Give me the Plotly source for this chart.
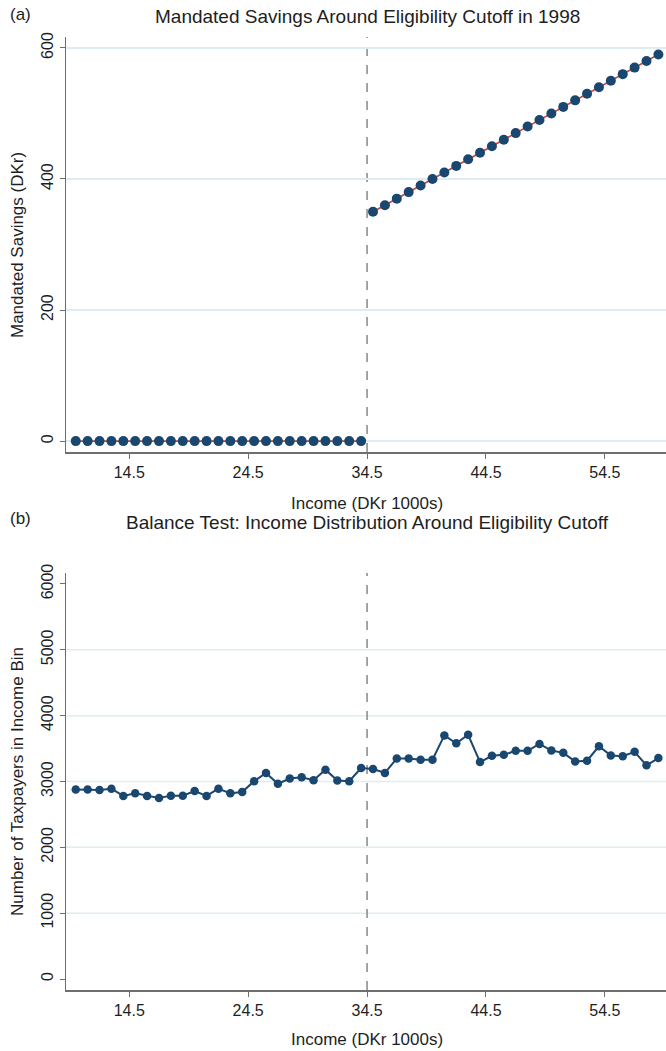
import plotly.graph_objects as go
from plotly.subplots import make_subplots

# ---- data ----
income_below = [10, 11, 12, 13, 14, 15, 16, 17, 18, 19, 20, 21, 22, 23, 24,
                25, 26, 27, 28, 29, 30, 31, 32, 33, 34]
income_above = [35, 36, 37, 38, 39, 40, 41, 42, 43, 44, 45, 46, 47, 48, 49,
                50, 51, 52, 53, 54, 55, 56, 57, 58, 59]
savings_below = [0] * 25
savings_above = [350, 360, 370, 380, 390, 400, 410, 420, 430, 440, 450, 460,
                 470, 480, 490, 500, 510, 520, 530, 540, 550, 560, 570, 580, 590]

income_all = income_below + income_above
taxpayers = [2880, 2880, 2870, 2890, 2780, 2820, 2780, 2750, 2785, 2785,
             2855, 2780, 2890, 2820, 2840, 3005, 3130, 2965, 3045, 3065,
             3020, 3180, 3015, 3005, 3205,
             3190, 3130, 3350, 3350, 3330, 3330, 3700, 3580, 3710, 3295,
             3390, 3405, 3465, 3465, 3570, 3470, 3435, 3305, 3315, 3535,
             3395, 3385, 3450, 3245, 3355]

cutoff = 34.5
x_ticks = [14.5, 24.5, 34.5, 44.5, 54.5]
y1_ticks = [0, 200, 400, 600]
y2_ticks = [0, 1000, 2000, 3000, 4000, 5000, 6000]
y2_grid = [1000, 2000, 3000, 4000, 5000]

title_a = "Mandated Savings Around Eligibility Cutoff in 1998"
title_b = "Balance Test: Income Distribution Around Eligibility Cutoff"
xlabel = "Income (DKr 1000s)"
ylabel_a = "Mandated Savings (DKr)"
ylabel_b = "Number of Taxpayers in Income Bin"

# ---- styles ----
NAVY = "#1A476F"
RED = "#D2452F"
GRID = "#DDEEF2"
AXIS = "#6E6E6E"
TXT = "#1E1E1E"
FONT = "Liberation Sans, Arial, sans-serif"

FW, FH = 666, 1051
ML, MT, MB = 66, 37, 61

fig = make_subplots(rows=2, cols=1)

fig.add_trace(go.Scatter(x=income_below, y=savings_below, mode="lines+markers",
                         line=dict(color=RED, width=1.6),
                         marker=dict(color=NAVY, size=10), showlegend=False), row=1, col=1)
fig.add_trace(go.Scatter(x=income_above, y=savings_above, mode="lines+markers",
                         line=dict(color=RED, width=1.6),
                         marker=dict(color=NAVY, size=10), showlegend=False), row=1, col=1)
fig.add_trace(go.Scatter(x=income_all, y=taxpayers, mode="lines+markers",
                         line=dict(color=NAVY, width=2),
                         marker=dict(color=NAVY, size=8.5), showlegend=False), row=2, col=1)

common_x = dict(range=[9.18, 59.64], tickvals=x_ticks, ticktext=[str(v) for v in x_ticks],
                showgrid=False, zeroline=False, showline=True, linecolor=AXIS, linewidth=1.5,
                ticks="outside", ticklen=5, tickcolor=AXIS,
                tickfont=dict(family=FONT, size=16, color=TXT))
common_y = dict(zeroline=False, showline=True,
                linecolor=AXIS, linewidth=1.5, ticks="outside", ticklen=5, tickcolor=AXIS,
                tickangle=-90, tickfont=dict(family=FONT, size=16, color=TXT))

fig.update_layout(
    width=FW, height=FH,
    margin=dict(l=ML, r=0, t=MT, b=MB),
    plot_bgcolor="white", paper_bgcolor="white",
    xaxis=dict(domain=[0, 1], anchor="y", **common_x),
    xaxis2=dict(domain=[0, 1], anchor="y2", **common_x),
    yaxis=dict(domain=[0.5645, 1.0], anchor="x", range=[-16.7, 616.7], tickvals=y1_ticks,
               showgrid=True, gridcolor=GRID, gridwidth=1.5, **common_y),
    yaxis2=dict(domain=[0.0, 0.4376], anchor="x2", range=[-167, 6167], tickvals=y2_ticks,
                showgrid=False, **common_y),
)

for v in y2_grid:
    fig.add_shape(type="line", xref="x2 domain", yref="y2", x0=0, x1=1, y0=v, y1=v,
                  line=dict(color=GRID, width=1.5), layer="below")

# cutoff dashed lines
for xr, yr in [("x", "y domain"), ("x2", "y2 domain")]:
    fig.add_shape(type="line", xref=xr, yref=yr, x0=cutoff, x1=cutoff, y0=0, y1=1,
                  line=dict(color="#888888", width=1.5, dash="dash"), layer="below")

H = FH - MT - MB
W = FW - ML
def py(pix):  # window pixel -> paper y
    return (FH - MB - pix) / H
def px(pix):
    return (pix - ML) / W

def ann(text, x, y, size=17, angle=0, xanchor="center"):
    fig.add_annotation(text=text, xref="paper", yref="paper", x=px(x), y=py(y), showarrow=False,
                       textangle=angle, xanchor=xanchor, yanchor="middle",
                       font=dict(family=FONT, size=size, color=TXT))

ann("(a)", 8, 14, size=17, xanchor="left")
ann(title_a, 367, 16, size=19)
ann(xlabel, 367, 504, size=17)
ann(ylabel_a, 17, 245, size=17, angle=-90)

ann("(b)", 8, 518, size=17, xanchor="left")
ann(title_b, 367, 522, size=19)
ann(xlabel, 367, 1039, size=17)
ann(ylabel_b, 17, 782, size=17, angle=-90)

# remove the default 8px page margin so the figure fills the window exactly
fig.write_html("out.html",
               config={"displayModeBar": False, "staticPlot": True},
               post_script="document.body.style.margin='0';document.body.style.overflow='hidden';")
